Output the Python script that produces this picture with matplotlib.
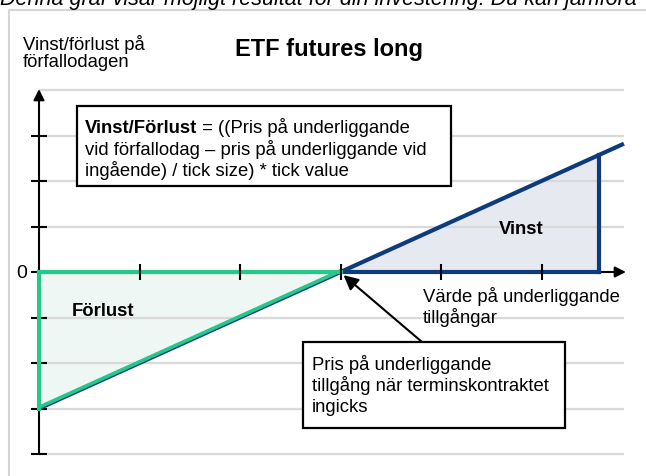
import numpy as np
import matplotlib.pyplot as plt
from matplotlib.patches import Rectangle
import matplotlib.transforms as mtransforms

plt.rcParams['font.family'] = ['Liberation Sans', 'DejaVu Sans']

# data: price of the underlying (in tick units) and payoff at expiry
price = [0, 3, 5.82]          # start of axis, break-even (entry price), end of line
payoff = [-3, 0, 2.82]
vinst_edge = 5.57            # where the shaded profit area stops
x_ticks = [1, 2, 3, 4, 5]
y_ticks = [-4, -3, -2, -1, 0, 1, 2, 3]
grid_levels = [4, 3, 2, 1, -1, -2, -3, -4]

W, H = 646, 477
fig = plt.figure(figsize=(W / 100, H / 100), dpi=100)
ax = fig.add_axes([0, 0, 1, 1])
ax.axis('off')
# origin at pixel (39, 273); 100.5 px per x unit, 45.5 px per y unit
ax.set_xlim(-39 / 100.5, (W - 39) / 100.5)
ax.set_ylim(-(H - 273) / 45.5, 273 / 45.5)


def px(x, y):
    return x / W, 1 - y / H


def lines(x, baselines, texts, **kw):
    for b, t in zip(baselines, texts):
        fig.text(*px(x, b), t, va='baseline', **kw)


green = '#22c98a'
blue = '#0e3b7c'
grid_c = '#d9d9d9'
fs = 13.3

# outer frame
fig.add_artist(plt.Line2D([9 / W, 9 / W, 1], [0, 1 - 11 / H, 1 - 11 / H],
                          transform=fig.transFigure, color='#d6d6d6', lw=1.5))

# cut off sentence at the top
fig.text(*px(0, 4.5), 'Denna graf visar möjligt resultat för din investering. Du kan jämföra',
         fontsize=15.5, style='italic', va='baseline', ha='left')

# grid
ax.hlines(grid_levels, 0, price[-1], color=grid_c, lw=1.6, zorder=2)

# loss area
ax.fill([price[0], price[1], price[0]], [0, 0, payoff[0]], color='#eef7f3', zorder=1)
# profit area
ax.fill([price[1], vinst_edge, vinst_edge], [0, 0, vinst_edge - price[1]],
        color='#e6e9f0', zorder=1)

# payoff line
ax.plot(price, payoff, color=blue, lw=3, zorder=4, solid_capstyle='butt')
ax.plot([vinst_edge, vinst_edge], [0, vinst_edge - price[1]], color=blue, lw=3, zorder=4)
ax.plot([price[1], vinst_edge], [0, 0], color=blue, lw=3, zorder=4)
off = mtransforms.offset_copy(ax.transData, fig=fig, x=0, y=1.2, units='dots')
ax.plot(price[:2], payoff[:2], color=green, lw=2.6, zorder=5, transform=off,
        solid_capstyle='butt')
ax.plot([price[0], price[1]], [0, 0], color=green, lw=3, zorder=5)
ax.plot([price[0], price[0]], [0, payoff[0]], color=green, lw=3, zorder=5)

# axes with arrows
ax.annotate('', xy=(0, 4.02), xytext=(0, -4), zorder=3,
            arrowprops=dict(arrowstyle='-|>', lw=1.5, color='black', mutation_scale=16,
                            shrinkA=0, shrinkB=0))
ax.annotate('', xy=(5.84, 0), xytext=(vinst_edge, 0), zorder=3,
            arrowprops=dict(arrowstyle='-|>', lw=1.5, color='black', mutation_scale=16,
                            shrinkA=0, shrinkB=0))
ax.plot(np.zeros(len(y_ticks)), y_ticks, ls='none', marker='_', ms=12, mew=1.5,
        color='black', zorder=3)
ax.plot(x_ticks, np.zeros(len(x_ticks)), ls='none', marker='|', ms=12, mew=1.5,
        color='black', zorder=6)

# texts
lines(23, [50, 67], ['Vinst/förlust på', 'förfallodagen'], fontsize=fs)
fig.text(*px(329, 56), 'ETF futures long', fontsize=17, weight='bold', ha='center',
         va='baseline')
fig.text(*px(27, 273), '0', fontsize=14, ha='right', va='center')

# formula box
fig.add_artist(Rectangle(px(77, 187), 374 / W, 80 / H, transform=fig.transFigure,
                         facecolor='white', edgecolor='black', lw=1.6, zorder=7))
tb = fig.text(*px(85, 133), 'Vinst/Förlust', fontsize=fs, weight='bold',
              va='baseline', zorder=8)
fig.canvas.draw()
bb = tb.get_window_extent()
fig.text(bb.x1 / W, 1 - 133 / H, ' = ((Pris på underliggande', fontsize=fs,
         va='baseline', zorder=8)
lines(85, [155, 176], ['vid förfallodag – pris på underliggande vid',
                       'ingående) / tick size) * tick value'], fontsize=fs, zorder=8)

fig.text(*px(521, 230), 'Vinst', fontsize=fs, weight='bold', ha='center', va='center')
fig.text(*px(72, 312), 'Förlust', fontsize=fs, weight='bold', va='center')
lines(423, [302, 323], ['Värde på underliggande', 'tillgångar'], fontsize=fs)

# entry price note
fig.add_artist(Rectangle(px(303, 429), 262 / W, 86 / H, transform=fig.transFigure,
                         facecolor='white', edgecolor='black', lw=1.6, zorder=7))
lines(312, [370, 391, 412], ['Pris på underliggande', 'tillgång när terminskontraktet',
                             'ingicks'], fontsize=fs, zorder=8)
ax.annotate('', xy=(price[1] + 0.03, -0.07), xycoords='data',
            xytext=px(422, 343), textcoords='figure fraction', zorder=8,
            arrowprops=dict(arrowstyle='-|>', lw=1.5, color='black', mutation_scale=22,
                            shrinkA=0, shrinkB=0))

fig.savefig('out.png', dpi=100)
